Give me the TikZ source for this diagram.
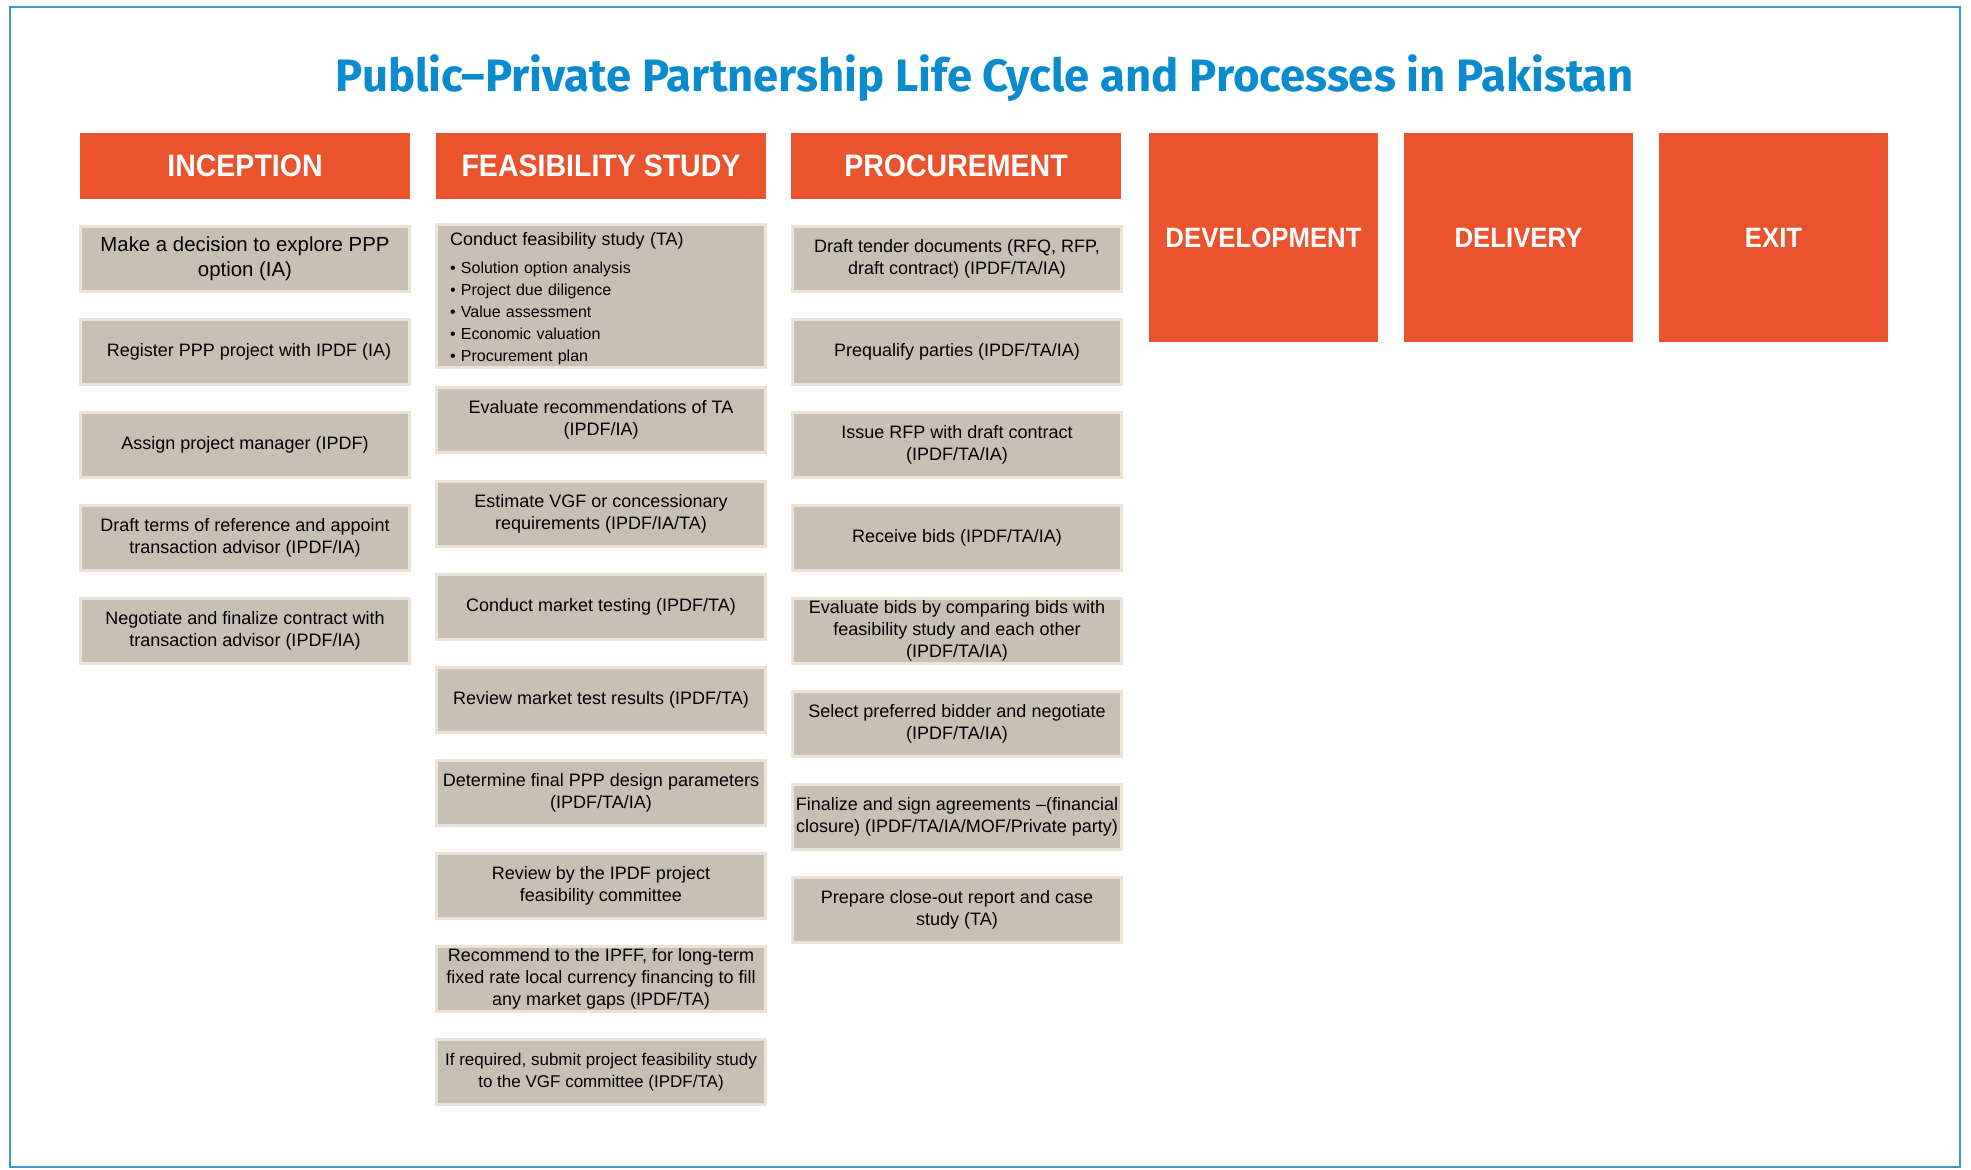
\documentclass[tikz,border=0pt]{standalone}
\usepackage{fontspec}
\setmainfont{Liberation Sans}
\newfontfamily\headfont[FakeStretch=0.92]{Liberation Sans}
\newfontfamily\titlefont{Fira Sans}
\definecolor{headorange}{RGB}{233,83,45}
\definecolor{boxgray}{RGB}{200,192,181}
\definecolor{boxrim}{RGB}{236,227,214}
\definecolor{titleblue}{RGB}{10,139,206}
\definecolor{frameblue}{RGB}{60,150,200}

\begin{document}
\begin{tikzpicture}[x=0.5pt,y=-0.5pt,
phase/.style={fill=headorange, text=white, inner sep=0pt, minimum width=165pt, minimum height=33pt,
  font=\headfont\bfseries\fontsize{15.5}{18}\selectfont},
bigphase/.style={phase, minimum width=114.5pt, minimum height=104.5pt,
  font=\headfont\bfseries\fontsize{14}{17}\selectfont},
task/.style={fill=boxgray, draw=boxrim, line width=1.5pt, minimum width=164.5pt, minimum height=32.5pt,
  inner sep=1pt, align=center, font=\fontsize{9}{11}\selectfont}]
\useasboundingbox (0,0) rectangle (1971,1169);
\draw [frameblue, line width=0.8pt] (10,7) rectangle (1960,1167);

\node [anchor=base, text=titleblue, font=\titlefont\bfseries\fontsize{22.7}{26}\selectfont] (title) at (985,91)
 {Public–Private Partnership Life Cycle and Processes in Pakistan};

% phases
\node [phase] (hInc) at (245,166) {INCEPTION};
\node [phase] (hFeas) at (601,166) {FEASIBILITY STUDY};
\node [phase] (hProc) at (956,166) {PROCUREMENT};
\node [bigphase] (hDev) at (1263.5,237.5) {DEVELOPMENT};
\node [bigphase] (hDel) at (1518.5,237.5) {DELIVERY};
\node [bigphase] (hExit) at (1773.5,237.5) {EXIT};

% inception
\node [task, font=\fontsize{10.2}{12.5}\selectfont] (inc1) at (245,259) {Make a decision to explore PPP\\option (IA)};
\node [task] (inc2) at (245,352) {\hspace{4pt}Register PPP project with IPDF (IA)};
\node [task] (inc3) at (245,445) {Assign project manager (IPDF)};
\node [task] (inc4) at (245,538) {Draft terms of reference and appoint\\transaction advisor (IPDF/IA)};
\node [task] (inc5) at (245,631) {Negotiate and finalize contract with\\transaction advisor (IPDF/IA)};

% feasibility study
\node [task, minimum height=70.5pt, align=left, text width=151pt, font=\fontsize{8}{11}\selectfont] (feas1) at (601,296)
 {\rule{0pt}{9.5pt}{\fontsize{9}{11}\selectfont Conduct feasibility study (TA)}\\[3pt]
  • Solution option analysis\\
  • Project due diligence\\
  • Value assessment\\
  • Economic valuation\\
  • Procurement plan};
\node [task] (feas2) at (601,420) {Evaluate recommendations of TA\\(IPDF/IA)};
\node [task] (feas3) at (601,514) {Estimate VGF or concessionary\\requirements (IPDF/IA/TA)};
\node [task] (feas4) at (601,607) {Conduct market testing (IPDF/TA)};
\node [task] (feas5) at (601,700) {Review market test results (IPDF/TA)};
\node [task] (feas6) at (601,793) {Determine final PPP design parameters\\(IPDF/TA/IA)};
\node [task] (feas7) at (601,886) {Review by the IPDF project\\feasibility committee};
\node [task] (feas8) at (601,979) {Recommend to the IPFF, for long-term\\fixed rate local currency financing to fill\\any market gaps (IPDF/TA)};
\node [task, font=\fontsize{8.5}{11}\selectfont] (feas9) at (601,1072) {If required, submit project feasibility study\\to the VGF committee (IPDF/TA)};

% procurement
\node [task] (proc1) at (957,259) {Draft tender documents (RFQ, RFP,\\draft contract) (IPDF/TA/IA)};
\node [task] (proc2) at (957,352) {Prequalify parties (IPDF/TA/IA)};
\node [task] (proc3) at (957,445) {Issue RFP with draft contract\\(IPDF/TA/IA)};
\node [task] (proc4) at (957,538) {Receive bids (IPDF/TA/IA)};
\node [task] (proc5) at (957,631) {Evaluate bids by comparing bids with\\feasibility study and each other\\(IPDF/TA/IA)};
\node [task] (proc6) at (957,724) {Select preferred bidder and negotiate\\(IPDF/TA/IA)};
\node [task] (proc7) at (957,817) {Finalize and sign agreements –(financial\\closure) (IPDF/TA/IA/MOF/Private party)};
\node [task] (proc8) at (957,910) {Prepare close-out report and case\\study (TA)};
\end{tikzpicture}
\end{document}
